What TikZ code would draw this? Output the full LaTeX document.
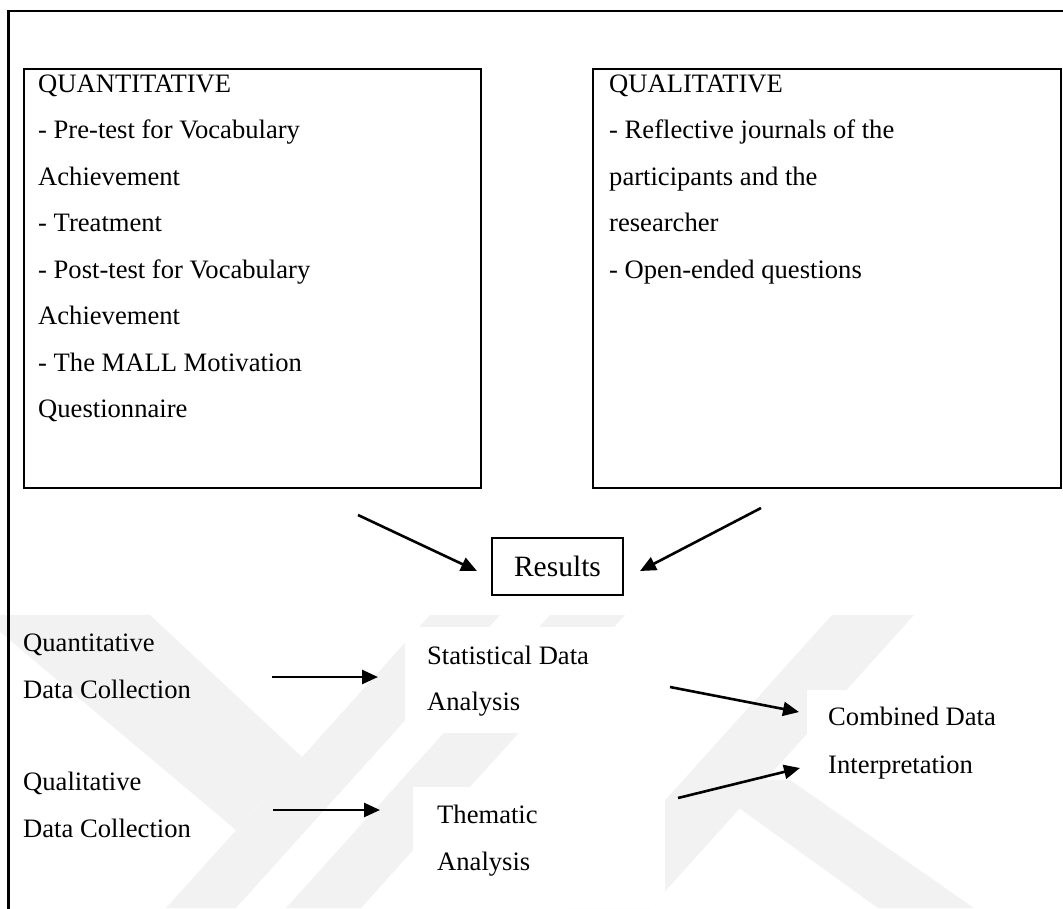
\documentclass[tikz,border=0pt]{standalone}
\usepackage{fontspec}
\setmainfont{Liberation Serif}
\usetikzlibrary{arrows.meta}
\newcommand\mybodyfont{\fontsize{26.6pt}{32pt}\selectfont}
\newcommand\myresfont{\fontsize{29.5pt}{36pt}\selectfont}
\begin{document}
\begin{tikzpicture}[x=1pt,y=-1pt,
  frame/.style={line width=2.2pt},
  boxstyle/.style={draw, line width=2.2pt, inner sep=0pt, anchor=north west},
  txt/.style={anchor=base west, inner sep=0pt, font=\mybodyfont},
  arr/.style={line width=2.6pt, -{Triangle[length=16pt,width=14pt]}},
  wm/.style={fill=black!5, draw=none},
  wbg/.style={fill=white, draw=none}]
\useasboundingbox (0,0) rectangle (1063,908);
\begin{scope}
\clip (0,0) rectangle (1063,908);
% faint watermark stripes
\fill[wm] (-20,615) -- (150,615) -- (302,757) -- (236,830) -- cycle;
\fill[wm] (430,615) -- (500,615) -- (236,908) -- (166,908) -- cycle;
\fill[wm] (550,615) -- (625,615) -- (361,908) -- (286,908) -- cycle;
\fill[wm] (832,615) -- (914,615) -- (650,908) -- (568,908) -- cycle;
\fill[wm] (700,780) -- (790,780) -- (974,908) -- (878,908) -- cycle;
% white text backgrounds
\fill[wbg] (405,627) rectangle (628,733);
\fill[wbg] (413,787) rectangle (665,908);
\fill[wbg] (807,690) rectangle (1063,790);
% outer frame
\draw[frame] (8.5,920) -- (8.5,11) -- (1075,11);
\end{scope}

% two boxes
\node[boxstyle, minimum width=457pt, minimum height=419.5pt] (quantbox) at (23,67.5) {};
\node[boxstyle, minimum width=468pt, minimum height=419.5pt] (qualbox) at (592,67.5) {};

\node[txt] (qt1) at (38,92) {QUANTITATIVE};
\node[txt] (qt2) at (38,138.5) {- Pre-test for Vocabulary};
\node[txt] (qt3) at (38,185) {Achievement};
\node[txt] (qt4) at (38,231.5) {- Treatment};
\node[txt] (qt5) at (38,278) {- Post-test for Vocabulary};
\node[txt] (qt6) at (38,324.5) {Achievement};
\node[txt] (qt7) at (38,371) {- The MALL Motivation};
\node[txt] (qt8) at (38,417.5) {Questionnaire};

\node[txt] (ql1) at (609,92) {QUALITATIVE};
\node[txt] (ql2) at (609,138.5) {- Reflective journals of the};
\node[txt] (ql3) at (609,185) {participants and the};
\node[txt] (ql4) at (609,231.5) {researcher};
\node[txt] (ql5) at (609,278) {- Open-ended questions};

% results
\node[draw, line width=2pt, minimum width=131pt, minimum height=57pt, inner sep=0pt, font=\myresfont] (res) at (557.5,566.5) {Results};
\coordinate (r1s) at (358,515);
\coordinate (r2s) at (761,508);
\draw[arr] (r1s) -- ([shift={(-14,4.5)}]res.west);
\draw[arr] (r2s) -- ([shift={(16,4.5)}]res.east);

% lower flow
\node[txt] (qc1) at (23,651) {Quantitative};
\node[txt] (qc2) at (23,698) {Data Collection};
\node[txt] (lc1) at (23,790) {Qualitative};
\node[txt] (lc2) at (23,837) {Data Collection};
\node[txt] (sa1) at (427,664) {Statistical Data};
\node[txt] (sa2) at (427,710) {Analysis};
\node[txt] (ta1) at (437,823) {Thematic};
\node[txt] (ta2) at (437,870) {Analysis};
\node[txt] (cd1) at (828,725) {Combined Data};
\node[txt] (cd2) at (828,773) {Interpretation};

\coordinate (a1s) at (272,677);
\coordinate (a1e) at (378,677);
\coordinate (a2s) at (273,810);
\coordinate (a2e) at (380,810);
\coordinate (a3s) at (670,687);
\coordinate (a3e) at (799,712);
\coordinate (a4s) at (678,798);
\coordinate (a4e) at (800,768);
\draw[arr] (a1s) -- (a1e);
\draw[arr] (a2s) -- (a2e);
\draw[arr] (a3s) -- (a3e);
\draw[arr] (a4s) -- (a4e);
\end{tikzpicture}
\end{document}
